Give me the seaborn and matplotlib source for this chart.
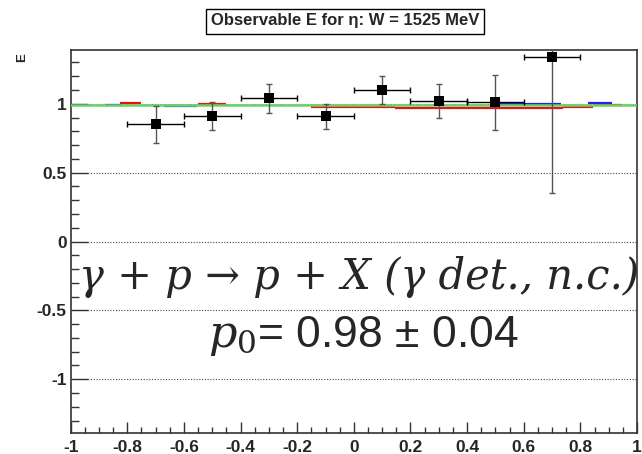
import numpy as np
import pandas as pd
import matplotlib
matplotlib.use('Agg')
import matplotlib.pyplot as plt
import seaborn as sns

# 测量点: cos(theta) 分箱中心, 观测量 E 及误差
x_bins = [-0.7, -0.5, -0.3, -0.1, 0.1, 0.3, 0.5, 0.7]
x_halfwidth = [0.1, 0.1, 0.1, 0.1, 0.1, 0.1, 0.1, 0.1]
E_values = [0.85, 0.91, 1.04, 0.91, 1.10, 1.02, 1.01, 1.34]
E_errors = [0.135, 0.10, 0.105, 0.09, 0.10, 0.12, 0.20, 0.99]

# 模型曲线 (分段水平线)
blue_start = [-0.878, -0.67, 0.48, 0.826]
blue_end = [-0.824, -0.555, 0.73, 0.91]
blue_level = [0.988, 0.98, 1.0, 1.007]

red_start = [-0.826, -0.55, -0.15, 0.146, 0.738, 0.845]
red_end = [-0.75, -0.45, 0.146, 0.738, 0.845, 0.946]
red_level = [1.004, 0.997, 0.973, 0.966, 0.976, 0.988]

fit_p0 = 0.99

# 坐标轴刻度
xtick_values = [-1, -0.8, -0.6, -0.4, -0.2, 0, 0.2, 0.4, 0.6, 0.8, 1]
xtick_labels = ['-1', '-0.8', '-0.6', '-0.4', '-0.2', '0', '0.2', '0.4', '0.6', '0.8', '1']
ytick_values = [-1, -0.5, 0, 0.5, 1]
ytick_labels = ['-1', '-0.5', '0', '0.5', '1']

title_text = 'Observable E for η: W = 1525 MeV'
reaction_text = 'γ + p → p + X (γ det., n.c.)'
fit_text = r'$\mathit{p}_{\mathit{0}}$= 0.98 ± 0.04'

df = pd.DataFrame({'x': x_bins, 'E': E_values, 'dx': x_halfwidth, 'dE': E_errors})

sns.set_style("ticks")
plt.rcParams['font.family'] = ['Liberation Sans', 'DejaVu Sans']
plt.rcParams['mathtext.fontset'] = 'dejavuserif'

fig = plt.figure(figsize=(6.42, 4.54), dpi=100)
ax = fig.add_axes([70.7 / 642, 21 / 454, (637 - 70.7) / 642, (433 - 50) / 454])

# 网格 (只有水平虚线)
ax.yaxis.grid(True, which='major', color='#444444', lw=0.8, ls=(0, (1, 1.5)))
ax.set_axisbelow(True)

# 模型线
ax.hlines(red_level, red_start, red_end, colors='#ee1111', lw=1.6, zorder=2)
ax.hlines(blue_level, blue_start, blue_end, colors='#2222ee', lw=1.6, zorder=2)
ax.axhline(fit_p0, color='#66d566', lw=1.8, zorder=3)

# 误差棒
ax.errorbar(df['x'], df['E'], yerr=df['dE'], fmt='none', ecolor='#555555',
            elinewidth=1.0, capsize=2, capthick=1.0, zorder=4)
ax.errorbar(df['x'], df['E'], xerr=df['dx'], fmt='none', ecolor='black',
            elinewidth=1.0, capsize=2.5, capthick=1.0, zorder=4)
sns.scatterplot(data=df, x='x', y='E', marker='s', s=45, color='black',
                edgecolor='black', linewidth=0, zorder=5, ax=ax)

ax.set_xlim(-1, 1)
ax.set_ylim(-1.39, 1.39)
ax.set_xlabel('')
ax.set_ylabel('')

ax.set_xticks(xtick_values)
ax.set_xticklabels(xtick_labels, fontweight='bold', fontsize=12.5)
ax.set_xticks(np.arange(-1, 1.001, 0.05), minor=True)
ax.set_yticks(ytick_values)
ax.set_yticklabels(ytick_labels, fontweight='bold', fontsize=12.5)
ax.set_yticks(np.arange(-1.3, 1.31, 0.1), minor=True)

ax.tick_params(axis='x', which='major', direction='in', length=8, width=1, pad=5, color='#333333')
ax.tick_params(axis='x', which='minor', direction='in', length=4, width=1, color='#333333')
ax.tick_params(axis='y', which='major', direction='in', length=12, width=1, pad=3, color='#333333')
ax.tick_params(axis='y', which='minor', direction='in', length=6, width=1, color='#333333')
ax.tick_params(top=False, right=False, which='both')

for side in ['left', 'bottom', 'top', 'right']:
    ax.spines[side].set_visible(True)
    ax.spines[side].set_color('#333333')
    ax.spines[side].set_linewidth(1.2)

# 大号注释文字
fig.text(359.5 / 642, 1 - 277 / 454, reaction_text, ha='center', va='center',
         fontsize=30, family='DejaVu Serif', style='italic')
fig.text(519 / 642, 1 - 347 / 454, fit_text, ha='right', va='baseline', fontsize=32,
         family=['Liberation Sans', 'DejaVu Sans'])

# 标题框
fig.text(345 / 642, 1 - 21 / 454, title_text, ha='center', va='center',
         fontsize=12, fontweight='bold',
         bbox=dict(boxstyle='square,pad=0.3', fc='white', ec='black', lw=1))

fig.text(22 / 642, 1 - 58 / 454, 'E', rotation=90, ha='center', va='center',
         fontsize=9.5, fontweight='bold')

plt.savefig('out.png', dpi=100)
